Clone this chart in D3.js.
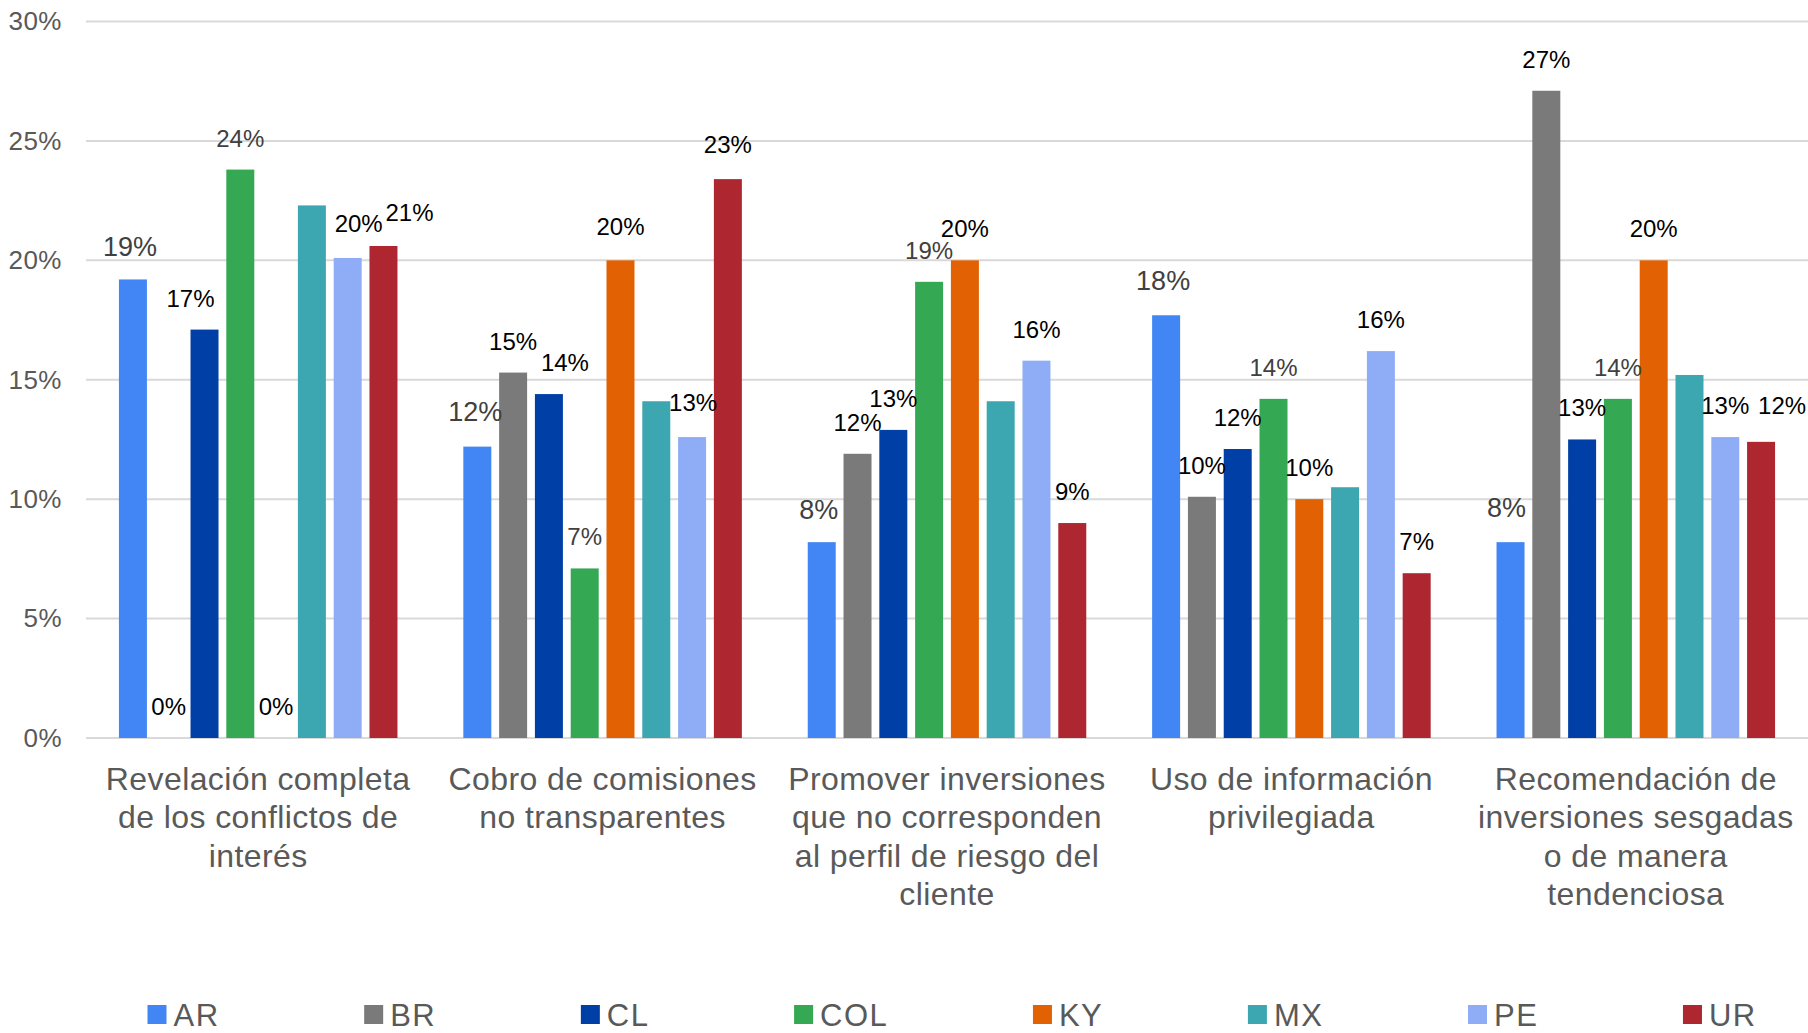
<!DOCTYPE html>
<html>
<head>
<meta charset="utf-8">
<script src="https://cdn.jsdelivr.net/npm/d3@7"></script>
<style>
  html, body { margin: 0; padding: 0; background: #ffffff; }
  svg { display: block; }
  text { font-family: "Liberation Sans", Arial, Helvetica, sans-serif; }
</style>
</head>
<body>
<svg id="chart" width="1808" height="1033"></svg>
<script>
// ---- data ----
const categories = [
  ["Revelación completa", "de los conflictos de", "interés"],
  ["Cobro de comisiones", "no transparentes"],
  ["Promover inversiones", "que no corresponden", "al perfil de riesgo del", "cliente"],
  ["Uso de información", "privilegiada"],
  ["Recomendación de", "inversiones sesgadas", "o de manera", "tendenciosa"]
];
const seriesNames = ["AR", "BR", "CL", "COL", "KY", "MX", "PE", "UR"];
const AR  = [19.2, 12.2,  8.2, 17.7,  8.2];
const BR  = [ 0.0, 15.3, 11.9, 10.1, 27.1];
const CL  = [17.1, 14.4, 12.9, 12.1, 12.5];
const COL = [23.8,  7.1, 19.1, 14.2, 14.2];
const KY  = [ 0.0, 20.0, 20.0, 10.0, 20.0];
const MX  = [22.3, 14.1, 14.1, 10.5, 15.2];
const PE  = [20.1, 12.6, 15.8, 16.2, 12.6];
const UR  = [20.6, 23.4,  9.0,  6.9, 12.4];
const seriesValues = [AR, BR, CL, COL, KY, MX, PE, UR];
const yTicks = [0, 5, 10, 15, 20, 25, 30];
const labeledSeries = ["AR", "BR", "CL", "COL", "KY", "PE", "UR"]; // MX has no data labels

// ---- styles ----
const colors = {
  AR: "#4285f4", BR: "#7a7a7a", CL: "#003fa6", COL: "#35a853",
  KY: "#e26103", MX: "#3da7b1", PE: "#8fadf6", UR: "#ae2630"
};
const labelStyle = {
  AR:  {fill: "#404040", size: 27},
  COL: {fill: "#404040", size: 24},
  other: {fill: "#000000", size: 24}
};
// small label nudges (pixels) where the original labels are displaced: [category, series, dx, dy]
const labelNudges = [
  [0, "AR", -3, 0], [0, "CL", -14, 0], [0, "PE", 11, -3], [0, "UR", 26, -2],
  [1, "AR", -2, -3], [1, "CL", 16, 0], [1, "KY", 0, -2], [1, "PE", 1, -3], [1, "UR", 0, -3],
  [2, "AR", -3, 0], [3, "AR", -3, -2], [4, "AR", -4, -2], [4, "UR", 21, -5]
];

// ---- layout ----
const svg = d3.select("#chart");
const plotLeft = 86, plotRight = 1808, yTop = 21.5, yBottom = 738;

const x0 = d3.scaleBand().domain(d3.range(categories.length)).range([plotLeft, plotRight]).padding(0);
const x1 = d3.scaleBand().domain(seriesNames).range([0, x0.bandwidth()]).paddingInner(0.218).paddingOuter(0.92);
const y = d3.scaleLinear().domain([0, 30]).range([yBottom, yTop]);

// gridlines
svg.append("g").selectAll("line").data(yTicks).join("line")
  .attr("x1", plotLeft).attr("x2", plotRight)
  .attr("y1", d => y(d)).attr("y2", d => y(d))
  .attr("stroke", "#d9d9d9").attr("stroke-width", 2);

// y axis labels
const yAxis = d3.axisLeft(y).tickValues(yTicks).tickFormat(d => d + "%").tickSize(0).tickPadding(0);
const yg = svg.append("g").attr("transform", "translate(62,0)").call(yAxis);
yg.select(".domain").remove();
yg.selectAll("text")
  .attr("fill", "#595959").attr("font-size", 26).attr("letter-spacing", 0.5)
  .attr("font-family", '"Liberation Sans", Arial, sans-serif');

// bars
const flat = [];
categories.forEach((c, ci) => {
  seriesNames.forEach((s, si) => flat.push({ci, s, v: seriesValues[si][ci]}));
});
svg.append("g").selectAll("rect").data(flat).join("rect")
  .attr("x", d => x0(d.ci) + x1(d.s))
  .attr("width", x1.bandwidth())
  .attr("y", d => y(d.v))
  .attr("height", d => y(0) - y(d.v))
  .attr("fill", d => colors[d.s]);

// data labels
const fmt = v => Math.round(v) + "%";
const nudge = (ci, s) => {
  const n = labelNudges.find(e => e[0] === ci && e[1] === s);
  return n ? [n[2], n[3]] : [0, 0];
};
svg.append("g").selectAll("text").data(flat.filter(d => labeledSeries.includes(d.s))).join("text")
  .attr("x", d => x0(d.ci) + x1(d.s) + x1.bandwidth() / 2 + nudge(d.ci, d.s)[0])
  .attr("y", d => y(d.v) - 23 + nudge(d.ci, d.s)[1])
  .attr("text-anchor", "middle")
  .attr("font-size", d => (labelStyle[d.s] || labelStyle.other).size)
  .attr("fill", d => (labelStyle[d.s] || labelStyle.other).fill)
  .text(d => fmt(d.v));

// category labels
const catG = svg.append("g");
categories.forEach((lines, ci) => {
  const cx = x0(ci) + x0.bandwidth() / 2;
  const t = catG.append("text")
    .attr("x", cx).attr("y", 790)
    .attr("text-anchor", "middle")
    .attr("font-size", 32)
    .attr("letter-spacing", 0.4)
    .attr("fill", "#595959");
  lines.forEach((ln, li) => {
    t.append("tspan").attr("x", cx).attr("dy", li === 0 ? 0 : 38.4).text(ln);
  });
});

// legend
const legend = svg.append("g");
let lx = 147.5;
seriesNames.forEach(s => {
  legend.append("rect").attr("x", lx).attr("y", 1005).attr("width", 19).attr("height", 19).attr("fill", colors[s]);
  const t = legend.append("text").attr("x", lx + 26).attr("y", 1026)
    .attr("font-size", 31).attr("letter-spacing", 1.5).attr("fill", "#595959").text(s);
  const w = t.node().getComputedTextLength();
  lx += 170.6 + w;
});
</script>
</body>
</html>
